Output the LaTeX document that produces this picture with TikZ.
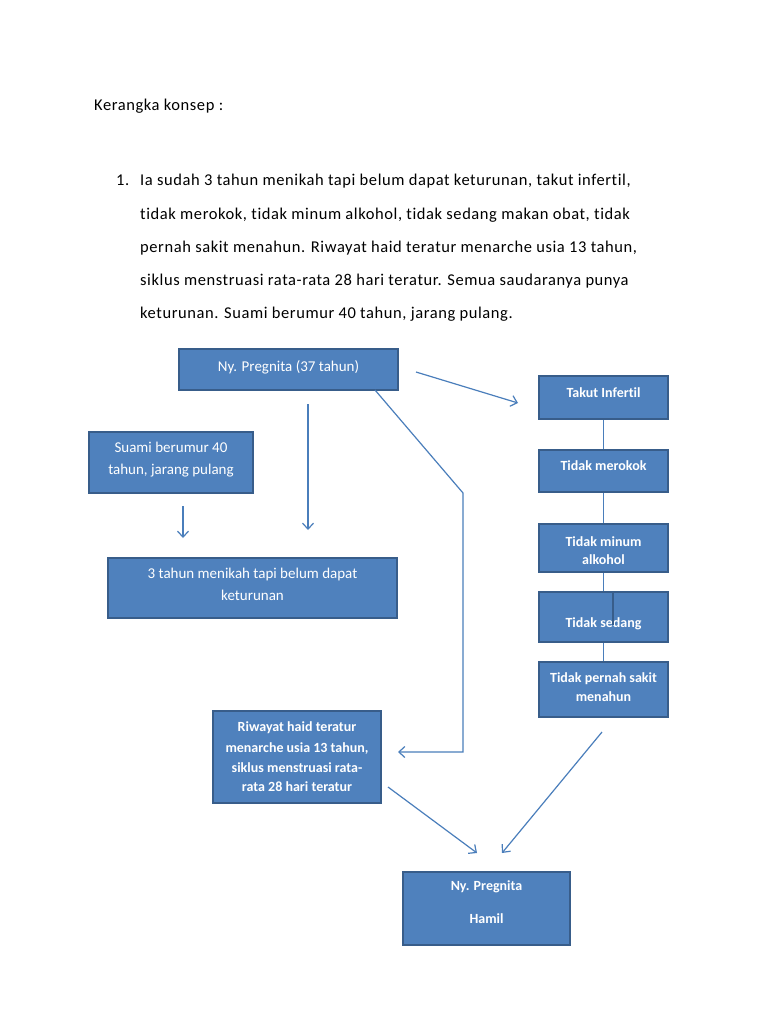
\documentclass[tikz,border=0pt]{standalone}
\usepackage{fontspec}
\setmainfont{Carlito}[Ligatures={TeX,NoCommon}]
\newfontfamily\bodyfont{Carlito}[Ligatures={TeX,NoCommon},LetterSpace=3.5]
\usetikzlibrary{arrows.meta}
\definecolor{boxfill}{HTML}{4F81BD}
\definecolor{boxline}{HTML}{385D8A}
\definecolor{arrowcol}{HTML}{4A7EBB}
\begin{document}
\begin{tikzpicture}[x=1pt,y=-1pt,
  box/.style={draw=boxline,fill=boxfill,line width=1.8pt,inner sep=0pt,rectangle},
  wtxt/.style={text=white,anchor=base,inner sep=0pt,font=\fontsize{15}{18}\selectfont},
  btxt/.style={text=white,anchor=base,inner sep=0pt,font=\fontsize{14}{16}\selectfont\bfseries},
  body/.style={anchor=base west,inner sep=0pt,font=\bodyfont\fontsize{16.5}{19}\selectfont},
  conn/.style={draw=arrowcol,line width=1.2pt},
  arr/.style={conn,-{Straight Barb[length=6pt,width=11pt,line width=1.2pt]}}]
\useasboundingbox[fill=white] (0,0) rectangle (768,1024);

% heading and text
\node[body] (title) at (94,111) {Kerangka konsep :};
\node[body] (num) at (116,186) {1.};
\node[body] (l1) at (140,186) {Ia sudah 3 tahun menikah tapi belum dapat keturunan, takut infertil,};
\node[body] (l2) at (140,219.2) {tidak merokok, tidak minum alkohol, tidak sedang makan obat, tidak};
\node[body] (l3) at (140,252.4) {pernah sakit menahun. Riwayat haid teratur menarche usia 13 tahun,};
\node[body] (l4) at (140,285.6) {siklus menstruasi rata-rata 28 hari teratur. Semua saudaranya punya};
\node[body] (l5) at (140,318.8) {keturunan. Suami berumur 40 tahun, jarang pulang.};

% boxes
\node[box,minimum width=219pt,minimum height=41pt] (preg) at (288.5,369.5) {};
\node[box,minimum width=129pt,minimum height=43pt] (takut) at (603.5,397.5) {};
\node[box,minimum width=129pt,minimum height=42pt] (merokok) at (603.5,471) {};
\node[box,minimum width=129pt,minimum height=48pt] (minum) at (603.5,548) {};
\node[box,minimum width=129pt,minimum height=50pt] (sedang) at (603.5,617) {};
\node[box,minimum width=129pt,minimum height=55pt] (pernah) at (603.5,689.5) {};
\node[box,minimum width=164pt,minimum height=61pt] (suami) at (171,462.5) {};
\node[box,minimum width=289pt,minimum height=60pt] (tiga) at (252.5,588) {};
\node[box,minimum width=168pt,minimum height=92pt] (riwayat) at (297,757) {};
\node[box,minimum width=167pt,minimum height=73pt] (hamil) at (486.5,908.5) {};

% box texts
\node[wtxt] (tpreg) at (288.5,371) {Ny. Pregnita (37 tahun)};
\node[btxt] (ttakut) at (603.5,397) {Takut Infertil};
\node[btxt] (tmerokok) at (603.5,470) {Tidak merokok};
\node[btxt] (tminum1) at (603.5,546.5) {Tidak minum};
\node[btxt] (tminum2) at (603.5,564) {alkohol};
\node[btxt] (tsedang) at (603.5,627.5) {Tidak sedang};
\node[btxt] (tpernah1) at (603.5,682.5) {Tidak pernah sakit};
\node[btxt] (tpernah2) at (603.5,701.5) {menahun};
\node[wtxt] (tsuami1) at (171,452.5) {Suami berumur 40};
\node[wtxt] (tsuami2) at (171,474.5) {tahun, jarang pulang};
\node[wtxt] (ttiga1) at (252.5,578) {3 tahun menikah tapi belum dapat};
\node[wtxt] (ttiga2) at (252.5,600) {keturunan};
\node[btxt] (triw1) at (297,731) {Riwayat haid teratur};
\node[btxt] (triw2) at (297,752) {menarche usia 13 tahun,};
\node[btxt] (triw3) at (297,772.5) {siklus menstruasi rata-};
\node[btxt] (triw4) at (297,791) {rata 28 hari teratur};
\node[btxt] (thamil1) at (486.5,890) {Ny. Pregnita};
\node[btxt] (thamil2) at (486.5,923) {Hamil};

% connector end points
\coordinate (a1s) at (416,372);
\coordinate (a1e) at (518,403);
\coordinate (a2s) at (308,404);
\coordinate (a2e) at (308,530);
\coordinate (a3s) at (183,506);
\coordinate (a3e) at (183,538);
\coordinate (e0) at (375,390);
\coordinate (e1) at (463,493);
\coordinate (e2) at (463,752);
\coordinate (e3) at (398,752);
\coordinate (a5s) at (388,787);
\coordinate (a5e) at (477,853);
\coordinate (a6s) at (602,732);
\coordinate (a6e) at (502,853);
\coordinate (in0) at (613,592);
\coordinate (in1) at (613,625);

% connectors
\draw[arr] (a1s) -- (a1e);
\draw[arr] (a2s) -- (a2e);
\draw[arr] (a3s) -- (a3e);
\draw[arr] (e0) -- (e1) -- (e2) -- (e3);
\draw[arr] (a5s) -- (a5e);
\draw[arr] (a6s) -- (a6e);
\draw[conn] (takut.south) -- (merokok.north);
\draw[conn] (merokok.south) -- (minum.north);
\draw[conn] (minum.south) -- (sedang.north);
\draw[conn] (sedang.south) -- (pernah.north);
\draw[draw=boxline,line width=1.2pt] (in0) -- (in1);
\end{tikzpicture}
\end{document}
